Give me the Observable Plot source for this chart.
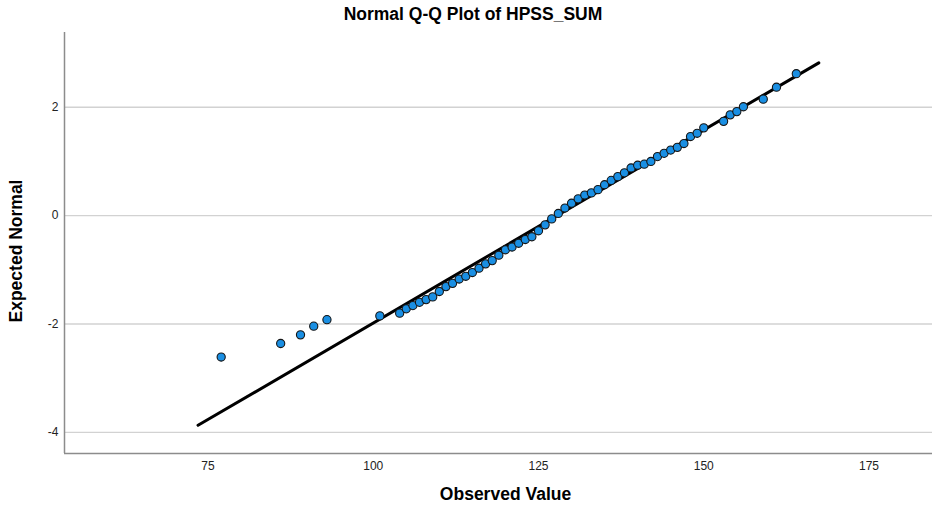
<!DOCTYPE html>
<html><head><meta charset="utf-8">
<script src="https://cdn.jsdelivr.net/npm/d3@7"></script>
<script src="https://cdn.jsdelivr.net/npm/@observablehq/plot@0.6"></script>
<style>
body{margin:0;background:#fff;font-family:"Liberation Sans",Arial,sans-serif;}
#title{height:28px;line-height:28px;text-align:center;font-weight:bold;font-size:17.5px;padding-left:14px;box-sizing:border-box;width:932px;color:#000}
</style></head><body>
<div id="title">Normal Q-Q Plot of HPSS_SUM</div>
<div id="chart"></div>
<script>
const observed = [77, 86, 89, 91, 93, 101, 104, 105, 106, 107, 108, 109, 110, 111, 112, 113, 114, 115, 116, 117, 118, 119, 120, 121, 122, 123, 124, 125, 126, 127, 128, 129, 130, 131, 132, 133, 134, 135, 136, 137, 138, 139, 140, 141, 142, 143, 144, 145, 146, 147, 148, 149, 150, 153, 154, 155, 156, 159, 161, 164];
const expected = [-2.61, -2.36, -2.20, -2.04, -1.92, -1.85, -1.80, -1.72, -1.66, -1.60, -1.55, -1.50, -1.40, -1.31, -1.25, -1.17, -1.12, -1.05, -0.97, -0.89, -0.83, -0.73, -0.63, -0.58, -0.51, -0.44, -0.39, -0.28, -0.17, -0.06, 0.04, 0.14, 0.23, 0.31, 0.38, 0.42, 0.48, 0.57, 0.65, 0.72, 0.79, 0.88, 0.93, 0.95, 1.00, 1.09, 1.15, 1.21, 1.26, 1.33, 1.46, 1.52, 1.62, 1.74, 1.86, 1.92, 2.01, 2.15, 2.37, 2.62];
const lineX = [73.5, 167.4];
const lineY = [-3.87, 2.82];
const xTicks = [75, 100, 125, 150, 175];
const yTicks = [-4, -2, 0, 2];
const xDomain = [53.3, 184.6];
const yDomain = [-4.39, 3.38];

const points = observed.map((x, i) => ({x, y: expected[i]}));
const refLine = lineX.map((x, i) => ({x, y: lineY[i]}));

const chart = Plot.plot({
  width: 932, height: 478,
  marginTop: 4, marginBottom: 53, marginLeft: 64, marginRight: 0,
  style: {fontFamily: "Liberation Sans, Arial, sans-serif", fontSize: "12px", color: "#222", background: "#fff"},
  x: {domain: xDomain, ticks: xTicks, tickSize: 0, tickPadding: 8, label: null, tickFormat: d => String(d)},
  y: {domain: yDomain, ticks: yTicks, tickSize: 0, tickPadding: 6, label: null, tickFormat: d => String(d)},
  marks: [
    Plot.ruleY(yTicks, {stroke: "#d2d2d2", strokeWidth: 1.3}),
    Plot.ruleX([xDomain[0]], {stroke: "#8c8c8c", strokeWidth: 1.5}),
    Plot.ruleY([yDomain[0]], {stroke: "#8c8c8c", strokeWidth: 1.5}),
    Plot.line(refLine, {x: "x", y: "y", stroke: "#000", strokeWidth: 3}),
    Plot.dot(points, {x: "x", y: "y", r: 4.1, fill: "#1a8fe3", stroke: "#151515", strokeWidth: 1.1}),
    Plot.text(["Observed Value"], {frameAnchor: "bottom", dx: 7, dy: 46, fontWeight: "bold", fontSize: 17.5, fill: "#000"}),
    Plot.text(["Expected Normal"], {frameAnchor: "left", textAnchor: "middle", dx: -48, dy: 8, rotate: -90, fontWeight: "bold", fontSize: 17.5, fill: "#000"})
  ]
});
document.getElementById("chart").appendChild(chart);
</script>
</body></html>
